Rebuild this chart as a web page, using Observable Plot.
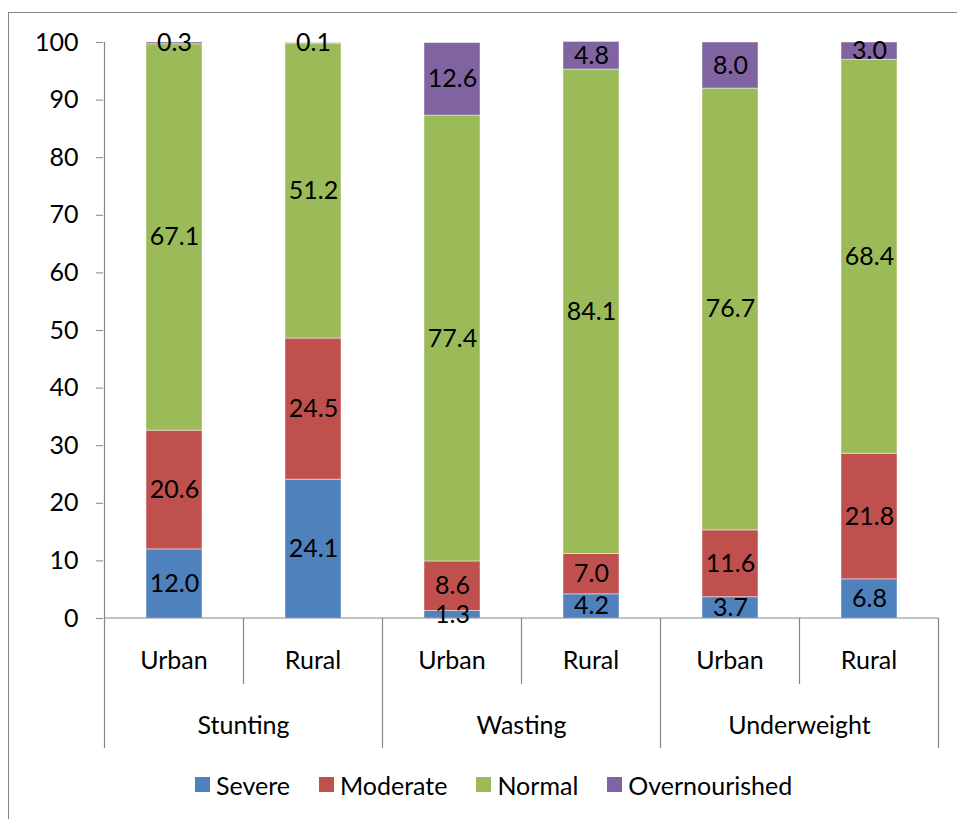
<!DOCTYPE html>
<html><head><meta charset="utf-8">
<script src="https://cdn.jsdelivr.net/npm/d3@7"></script>
<script src="https://cdn.jsdelivr.net/npm/@observablehq/plot@0.6"></script>
<style>
body{margin:0;background:#fff;}
#wrap{position:relative;width:957px;height:819px;overflow:hidden;font-family:Lato, sans-serif;background:#fff;}
#border{position:absolute;left:8px;top:12px;width:1200px;height:1200px;border:1px solid #868686;box-sizing:border-box;}
#chart{position:absolute;left:0;top:0;}
#legend{position:absolute;left:195px;top:768px;}
#legend .lg-swatches{font-family:Lato, sans-serif !important;font-size:25px !important;color:#000;margin:0 !important;}
#legend .lg-swatch{margin-right:29px !important;}
#legend .lg-swatch > svg{margin-right:6px !important;}
</style></head><body><div id="wrap"><div id="border"></div><div id="chart"></div><div id="legend"></div></div>
<script>
const groups = ["Stunting","Stunting","Wasting","Wasting","Underweight","Underweight"];
const areas = ["Urban","Rural","Urban","Rural","Urban","Rural"];
const statuses = ["Severe","Moderate","Normal","Overnourished"];
const colors = ["#4F81BD","#C0504D","#9BBB59","#8064A2"];
const severe = [12.0, 24.1, 1.3, 4.2, 3.7, 6.8];
const moderate = [20.6, 24.5, 8.6, 7.0, 11.6, 21.8];
const normal = [67.1, 51.2, 77.4, 84.1, 76.7, 68.4];
const overnourished = [0.3, 0.1, 12.6, 4.8, 8.0, 3.0];
const yTicks = [0, 10, 20, 30, 40, 50, 60, 70, 80, 90, 100];

const keys = groups.map((g, i) => g + "|" + areas[i]);
const series = [severe, moderate, normal, overnourished];
const data = [];
keys.forEach((k, i) => {
  statuses.forEach((s, j) => {
    data.push({key: k, group: groups[i], area: areas[i], status: s, value: series[j][i]});
  });
});

const FONT = "Lato, sans-serif";
const FS = 25;

const chart = Plot.plot({
  width: 957,
  height: 760,
  marginTop: 42,
  marginBottom: 142,
  marginLeft: 103,
  marginRight: 17,
  style: {fontFamily: FONT, fontSize: FS + "px", color: "#000", background: "transparent", overflow: "visible"},
  x: {domain: keys, paddingInner: 0.6, paddingOuter: 0.3, axis: null},
  y: {domain: [0, 100], axis: null},
  color: {domain: statuses, range: colors},
  marks: [
    Plot.axisY({ticks: yTicks, tickSize: 7, tickPadding: 18, label: null, stroke: "#868686", fill: "#000", fontSize: FS}),
    Plot.barY(data, {x: "key", y: "value", fill: "status", order: null, stroke: "#fff", strokeOpacity: 0.45, strokeWidth: 1}),
    Plot.text(data, Plot.stackY({x: "key", y: "value", z: "status", order: null, text: d => d.value.toFixed(1), fill: "#000", fontSize: FS}))
  ]
});
document.getElementById("chart").appendChild(chart);

// category axis drawn from the plot's own scales
const xs = chart.scale("x"), ys = chart.scale("y");
const bw = xs.bandwidth;
const step = xs.step;
const bounds = keys.map(k => xs.apply(k) - (step - bw) / 2);
bounds.push(bounds[bounds.length - 1] + step);
const y0 = ys.apply(0), y100 = ys.apply(100);
const svg = d3.select(chart);
const g = svg.insert("g", "g[aria-label=text]").attr("stroke", "#868686").attr("stroke-width", 1.2);
g.append("line").attr("x1", bounds[0]).attr("x2", bounds[0]).attr("y1", y100).attr("y2", y0);
g.append("line").attr("x1", bounds[0]).attr("x2", bounds[bounds.length - 1]).attr("y1", y0).attr("y2", y0);
bounds.forEach((b, i) => {
  g.append("line").attr("x1", b).attr("x2", b).attr("y1", y0).attr("y2", y0 + (i % 2 === 0 ? 130 : 66));
});
const t = svg.append("g").attr("font-family", FONT).attr("font-size", FS).attr("fill", "#000").attr("text-anchor", "middle");
keys.forEach((k, i) => {
  t.append("text").attr("x", xs.apply(k) + bw / 2).attr("y", y0 + 42).attr("dy", "0.35em").text(areas[i]);
});
for (let i = 0; i < keys.length; i += 2) {
  t.append("text").attr("x", (bounds[i] + bounds[i + 2]) / 2).attr("y", y0 + 107).attr("dy", "0.35em").text(groups[i]);
}

const legend = Plot.legend({color: {domain: statuses, range: colors}, legend: "swatches", swatchSize: 15, className: "lg"});
document.getElementById("legend").appendChild(legend);
</script></body></html>
